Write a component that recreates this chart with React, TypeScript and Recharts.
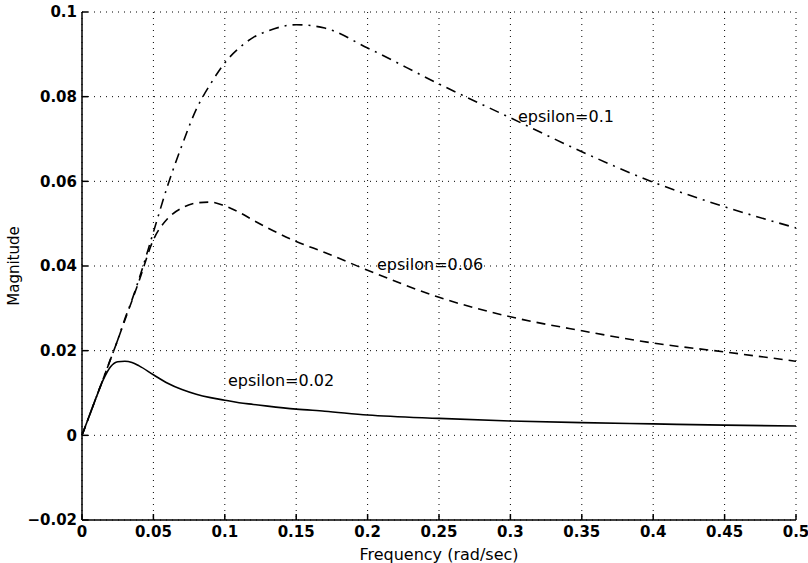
import React from 'react';
import {
  LineChart,
  Line,
  XAxis,
  YAxis,
  CartesianGrid,
  ReferenceDot,
} from 'recharts';

// frequency samples (rad/sec)
const freq = [
  0, 0.005, 0.01, 0.015, 0.02, 0.025, 0.03, 0.035, 0.04, 0.05, 0.06, 0.07, 0.08,
  0.09, 0.1, 0.11, 0.12, 0.13, 0.15, 0.17, 0.2, 0.25, 0.3, 0.35, 0.4, 0.45, 0.5,
];

// magnitude for each epsilon
const eps002 = [
  0, 0.0045, 0.009, 0.0132, 0.0162, 0.0174, 0.0175, 0.0172, 0.0164, 0.0143,
  0.0123, 0.0108, 0.0097, 0.0089, 0.0083, 0.0077, 0.0073, 0.0069, 0.0062,
  0.0057, 0.0048, 0.004, 0.0034, 0.003, 0.0027, 0.0024, 0.0022,
];
const eps006 = [
  0, 0.0045, 0.009, 0.0135, 0.018, 0.0225, 0.0272, 0.0318, 0.0365, 0.0462,
  0.0512, 0.0537, 0.0549, 0.0551, 0.0542, 0.0527, 0.0508, 0.049, 0.0458,
  0.0432, 0.039, 0.0326, 0.028, 0.0247, 0.0218, 0.0197, 0.0175,
];
const eps01 = [
  0, 0.0045, 0.009, 0.0135, 0.018, 0.0225, 0.0275, 0.032, 0.037, 0.048, 0.059,
  0.0685, 0.077, 0.083, 0.088, 0.0915, 0.094, 0.0955, 0.097, 0.0962, 0.0915,
  0.083, 0.075, 0.067, 0.0598, 0.054, 0.049,
];

const xTicks = [0, 0.05, 0.1, 0.15, 0.2, 0.25, 0.3, 0.35, 0.4, 0.45, 0.5];
const yTicks = [-0.02, 0, 0.02, 0.04, 0.06, 0.08, 0.1];

const data = freq.map((f, i) => ({
  f,
  e1: eps002[i],
  e2: eps006[i],
  e3: eps01[i],
}));

const FONT = '"DejaVu Sans", "Liberation Sans", sans-serif';
const tickStyle = { fill: '#000', fontSize: 15, fontWeight: 'bold', fontFamily: FONT };
const fmt = (v: number) => (v < 0 ? '\u2212' + String(-v) : String(v));

function Note({ x, y, text }: { x: number; y: number; text: string }) {
  return (
    <ReferenceDot
      x={x}
      y={y}
      r={0}
      stroke="none"
      label={{
        value: text,
        position: 'right',
        offset: 0,
        fill: '#000',
        fontSize: 16,
        fontFamily: FONT,
      }}
    />
  );
}

export default function App() {
  return (
    <div style={{ position: 'absolute', left: 0, top: 0, background: '#fff' }}>
      <LineChart
        width={808}
        height={563}
        data={data}
        margin={{ top: 12, right: 12, bottom: 0, left: 0 }}
      >
        <CartesianGrid stroke="#000" strokeDasharray="1 5" />
        <XAxis
          dataKey="f"
          type="number"
          domain={[0, 0.5]}
          ticks={xTicks}
          height={43}
          stroke="#000"
          strokeWidth={1.5}
          tickSize={-6}
          tickMargin={12}
          tick={tickStyle}
          label={{
            value: 'Frequency (rad/sec)',
            position: 'insideBottom',
            offset: 3,
            fill: '#000',
            fontSize: 16,
            fontFamily: FONT,
          }}
        />
        <XAxis
          xAxisId="top"
          orientation="top"
          type="number"
          domain={[0, 0.5]}
          ticks={xTicks}
          height={0}
          stroke="#000"
          strokeWidth={1.5}
          tickSize={-6}
          tick={false}
        />
        <YAxis
          type="number"
          domain={[-0.02, 0.1]}
          ticks={yTicks}
          tickFormatter={fmt}
          width={82}
          stroke="#000"
          strokeWidth={1.5}
          tickSize={-6}
          tickMargin={11}
          tick={tickStyle}
          label={{
            value: 'Magnitude',
            angle: -90,
            position: 'insideLeft',
            offset: 14,
            fill: '#000',
            fontSize: 15,
            fontFamily: FONT,
            style: { textAnchor: 'middle' },
          }}
        />
        <YAxis
          yAxisId="right"
          orientation="right"
          type="number"
          domain={[-0.02, 0.1]}
          ticks={yTicks}
          width={0}
          stroke="#000"
          strokeWidth={1.5}
          tickSize={-6}
          tick={false}
        />
        <Line
          type="monotone"
          dataKey="e1"
          stroke="#000"
          strokeWidth={1.6}
          dot={false}
          isAnimationActive={false}
        />
        <Line
          type="monotone"
          dataKey="e2"
          stroke="#000"
          strokeWidth={1.6}
          strokeDasharray="9 6"
          dot={false}
          isAnimationActive={false}
        />
        <Line
          type="monotone"
          dataKey="e3"
          stroke="#000"
          strokeWidth={1.6}
          strokeDasharray="10 6 2 6"
          dot={false}
          isAnimationActive={false}
        />
        <Note x={0.1022} y={0.0129} text="epsilon=0.02" />
        <Note x={0.2066} y={0.0405} text="epsilon=0.06" />
        <Note x={0.3053} y={0.0754} text="epsilon=0.1" />
      </LineChart>
    </div>
  );
}
